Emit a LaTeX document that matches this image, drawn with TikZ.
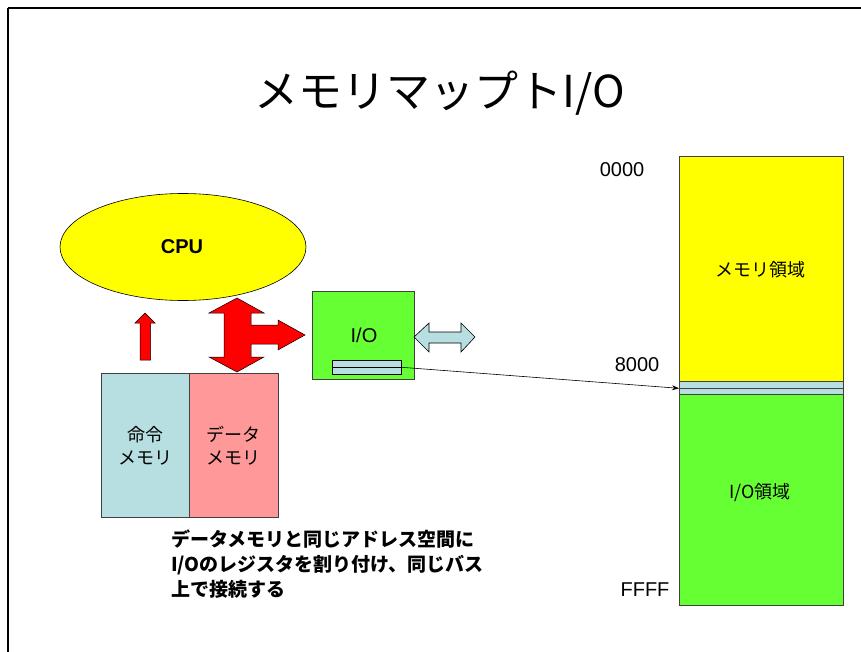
\documentclass[tikz,border=0pt]{standalone}
\usepackage{fontspec}
\setmainfont{Liberation Sans}
\newfontfamily\jp{Noto Sans CJK JP}
\usetikzlibrary{arrows.meta,shapes.geometric}
\definecolor{cpuyellow}{HTML}{FFFF00}
\definecolor{iogreen}{HTML}{66FF33}
\definecolor{lblue}{HTML}{B7DEE0}
\definecolor{lpink}{HTML}{FF9999}
\definecolor{bred}{HTML}{FF0000}
\definecolor{edgegray}{HTML}{404040}
\tikzset{
  x=1pt, y=-1pt,
  boxstyle/.style={draw=edgegray, line width=0.8pt, inner sep=0pt},
  lbl/.style={font=\fontsize{20}{24}\selectfont, inner sep=0pt},
  jlbl/.style={font=\jp\fontsize{18}{23}\selectfont, inner sep=0pt, align=center},
  redarrow/.style={fill=bred, draw=black, line width=0.5pt, line join=miter},
  bluearrow/.style={fill=lblue, draw=black, line width=0.6pt, line join=miter},
}
\begin{document}
\begin{tikzpicture}
\useasboundingbox (0,0) rectangle (861,652);
\fill[white] (0,0) rectangle (861,652);
% slide frame
\draw[line width=1.6pt] (8,8) -- (875,8) (8,8) -- (8,665);
% title
\node[font=\jp\fontsize{44}{50}\selectfont, inner sep=0pt] (title) at (440,93) {メモリマップトI/O};
% CPU
\node[ellipse, draw=black, line width=0.6pt, fill=cpuyellow, minimum width=246, minimum height=107, inner sep=0pt] (cpu) at (183,247) {};
\node[font=\bfseries\fontsize{20}{24}\selectfont, inner sep=0pt] (cputext) at (182,247) {CPU};
% memories
\node[boxstyle, fill=lblue, minimum width=88, minimum height=144, anchor=north west] (imem) at (101,373) {};
\node[boxstyle, fill=lpink, minimum width=89, minimum height=144, anchor=north west] (dmem) at (189,373) {};
\node[jlbl] (imemtext) at (imem.center) {命令\\メモリ};
\node[jlbl] (dmemtext) at (dmem.center) {データ\\メモリ};
% red arrows
\draw[redarrow] (145,313) -- (155,323) -- (150.5,323) -- (150.5,360) -- (140,360) -- (140,323) -- (135,323) -- cycle;
\draw[redarrow] (237,298) -- (264,313) -- (251,313) -- (251,325) -- (278,325) -- (278,320) -- (305,335) -- (278,350) -- (278,344) -- (251,344) -- (251,357) -- (264,357) -- (237,372) -- (209,357) -- (224,357) -- (224,313) -- (209,313) -- cycle;
% I/O box
\node[boxstyle, fill=iogreen, minimum width=102, minimum height=88, anchor=north west] (io) at (312,291) {};
\node[lbl] (iotext) at (364,335) {I/O};
\node[draw=black, line width=0.6pt, fill=lblue, minimum width=69, minimum height=14, inner sep=0pt, anchor=north west] (reg) at (332,360) {};
\draw[line width=0.6pt] (reg.west) -- (reg.east);
% blue double arrow
\draw[bluearrow] (414,337) -- (429,323) -- (429,332) -- (461,332) -- (461,323) -- (475,337) -- (461,352) -- (461,343) -- (429,343) -- (429,352) -- cycle;
% memory map
\node[boxstyle, fill=cpuyellow, minimum width=164, minimum height=225, anchor=north west] (memarea) at (679,156) {};
\node[boxstyle, fill=lblue, minimum width=164, minimum height=6.5, anchor=north west] (strip1) at (679,381) {};
\node[boxstyle, fill=lblue, minimum width=164, minimum height=6.5, anchor=north west] (strip2) at (679,387.5) {};
\node[boxstyle, fill=iogreen, minimum width=164, minimum height=211, anchor=north west] (ioarea) at (679,394) {};
\node[font=\jp\fontsize{18}{22}\selectfont, inner sep=0pt] (memtext) at (760,270) {メモリ領域};
\node[font=\jp\fontsize{18}{22}\selectfont, inner sep=0pt] (iotext2) at (760,493) {I/O領域};
\node[lbl] (a0) at (622,170) {0000};
\node[lbl] (a8) at (637,365) {8000};
\node[lbl] (af) at (645,590) {FFFF};
% connector
\draw[line width=0.6pt, -{Stealth[length=7pt,width=5pt]}] (reg.east) -- (strip1.south west);
% caption
\node[font=\jp\bfseries\fontsize{19}{25}\selectfont, inner sep=0pt, align=left, anchor=north west] (caption) at (171,530) {データメモリと同じアドレス空間に\\I/Oのレジスタを割り付け、同じバス\\上で接続する};
\end{tikzpicture}
\end{document}
